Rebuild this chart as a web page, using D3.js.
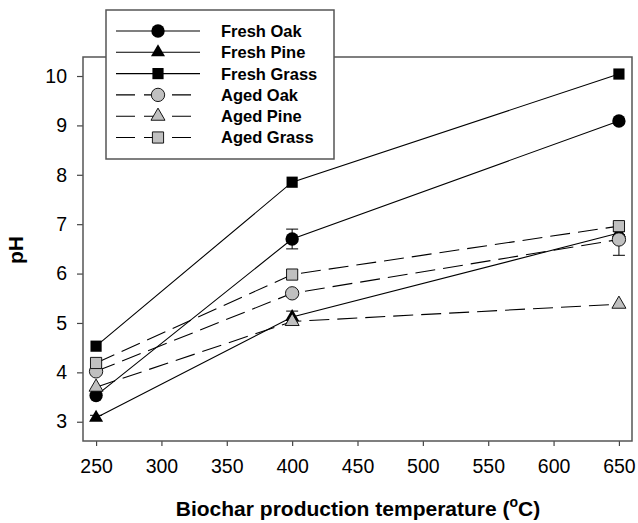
<!DOCTYPE html>
<html><head><meta charset="utf-8">
<script src="https://cdn.jsdelivr.net/npm/d3@7"></script>
<style>body{margin:0;background:#fff}svg{display:block}text{font-family:"Liberation Sans",Arial,sans-serif}</style>
</head><body>
<script>
const temps = [250, 400, 650];
const seriesNames = ["Fresh Oak","Fresh Pine","Fresh Grass","Aged Oak","Aged Pine","Aged Grass"];
const freshOak = [3.53, 6.70, 9.09];
const freshPine = [3.08, 5.12, 6.82];
const freshGrass = [4.53, 7.85, 10.04];
const agedOak = [4.02, 5.60, 6.69];
const agedPine = [3.70, 5.03, 5.38];
const agedGrass = [4.19, 5.98, 6.96];
const freshOakErr = [0.04, 0.20, 0.04];
const freshPineErr = [0.05, 0.12, 0.03];
const freshGrassErr = [0, 0, 0];
const agedOakErr = [0.03, 0.03, 0.32];
const agedPineErr = [0, 0, 0];
const agedGrassErr = [0, 0, 0];
const xTicks = [250,300,350,400,450,500,550,600,650];
const yTicks = [3,4,5,6,7,8,9,10];

const series = [
  {name:seriesNames[0], v:freshOak, e:freshOakErr, sym:"circle", fill:"#000", dash:null},
  {name:seriesNames[1], v:freshPine, e:freshPineErr, sym:"triangle", fill:"#000", dash:null},
  {name:seriesNames[2], v:freshGrass, e:freshGrassErr, sym:"square", fill:"#000", dash:null},
  {name:seriesNames[3], v:agedOak, e:agedOakErr, sym:"circle", fill:"#c0c0c0", dash:"20,8"},
  {name:seriesNames[4], v:agedPine, e:agedPineErr, sym:"triangle", fill:"#c0c0c0", dash:"20,8"},
  {name:seriesNames[5], v:agedGrass, e:agedGrassErr, sym:"square", fill:"#c0c0c0", dash:"20,8"}
];

const W=638,H=523;
const L=83,R=632,T=57,B=441;
const x = d3.scaleLinear().domain([240,660]).range([L,R]);
const y = d3.scaleLinear().domain([2.61,10.385]).range([B,T]);

const svg = d3.select("body").append("svg").attr("width",W).attr("height",H);

function symPath(sym){
  const t = sym==="circle"?d3.symbolCircle:sym==="triangle"?d3.symbolTriangle:d3.symbolSquare;
  const s = sym==="circle"?140:sym==="triangle"?85:125;
  return d3.symbol().type(t).size(s)();
}

// axes
const xa = svg.append("g").attr("transform",`translate(0,${B})`)
  .call(d3.axisBottom(x).tickValues(xTicks).tickSize(5).tickPadding(10).tickSizeOuter(0));
const ya = svg.append("g").attr("transform",`translate(${L},0)`)
  .call(d3.axisLeft(y).tickValues(yTicks).tickSize(6).tickPadding(10).tickSizeOuter(0));
[xa,ya].forEach(a=>{
  a.select(".domain").remove();
  a.selectAll("line").attr("stroke","#444").attr("stroke-width",1.2);
  a.selectAll("text").attr("font-size",19.5).attr("fill","#000");
});
xa.selectAll("text").attr("dy","0.85em");

// frame
svg.append("rect").attr("x",L).attr("y",T).attr("width",R-L).attr("height",B-T)
  .attr("fill","none").attr("stroke","#555").attr("stroke-width",1.5);

const line = d3.line().x((d,i)=>x(temps[i])).y(d=>y(d));
const plot = svg.append("g");
series.forEach(s=>{
  const g = plot.append("g");
  g.append("path").attr("d",line(s.v)).attr("fill","none").attr("stroke","#000")
    .attr("stroke-width",1.1).attr("stroke-dasharray",s.dash);
  s.v.forEach((v,i)=>{
    const e = s.e[i];
    if(e>0){
      const cx=x(temps[i]);
      g.append("line").attr("x1",cx).attr("x2",cx).attr("y1",y(v-e)).attr("y2",y(v+e)).attr("stroke","#000");
      [v-e,v+e].forEach(w=>g.append("line").attr("x1",cx-6).attr("x2",cx+6).attr("y1",y(w)).attr("y2",y(w)).attr("stroke","#000"));
    }
  });
  s.v.forEach((v,i)=>{
    g.append("path").attr("d",symPath(s.sym))
      .attr("transform",`translate(${x(temps[i])},${y(v)})`)
      .attr("fill",s.fill).attr("stroke","#000").attr("stroke-width",s.fill==="#000"?0:0.9);
  });
});

// legend
const lg = svg.append("g");
lg.append("rect").attr("x",106).attr("y",10).attr("width",228).attr("height",149)
  .attr("fill","#fff").attr("stroke","#555").attr("stroke-width",1.5);
series.forEach((s,i)=>{
  const ly = 31 + i*21.3;
  lg.append("line").attr("x1",116).attr("x2",200).attr("y1",ly).attr("y2",ly)
    .attr("stroke","#000").attr("stroke-width",1.1).attr("stroke-dasharray",s.dash?"19,9":null);
  lg.append("path").attr("d",symPath(s.sym)).attr("transform",`translate(158,${ly})`)
    .attr("fill",s.fill).attr("stroke","#000").attr("stroke-width",s.fill==="#000"?0:0.9);
  lg.append("text").attr("x",221).attr("y",ly).attr("dy","0.36em")
    .attr("font-size",16.5).attr("font-weight","bold").text(s.name);
});

// axis titles
const xt = svg.append("text").attr("x",358).attr("y",516).attr("text-anchor","middle")
  .attr("font-size",21).attr("font-weight","bold");
xt.append("tspan").text("Biochar production temperature (");
xt.append("tspan").attr("font-size",14).attr("dy",-9).text("o");
xt.append("tspan").attr("dy",9).text("C)");

svg.append("text").attr("transform","translate(23,250) rotate(-90)").attr("text-anchor","middle")
  .attr("font-size",21).attr("font-weight","bold").text("pH");
</script>
</body></html>
